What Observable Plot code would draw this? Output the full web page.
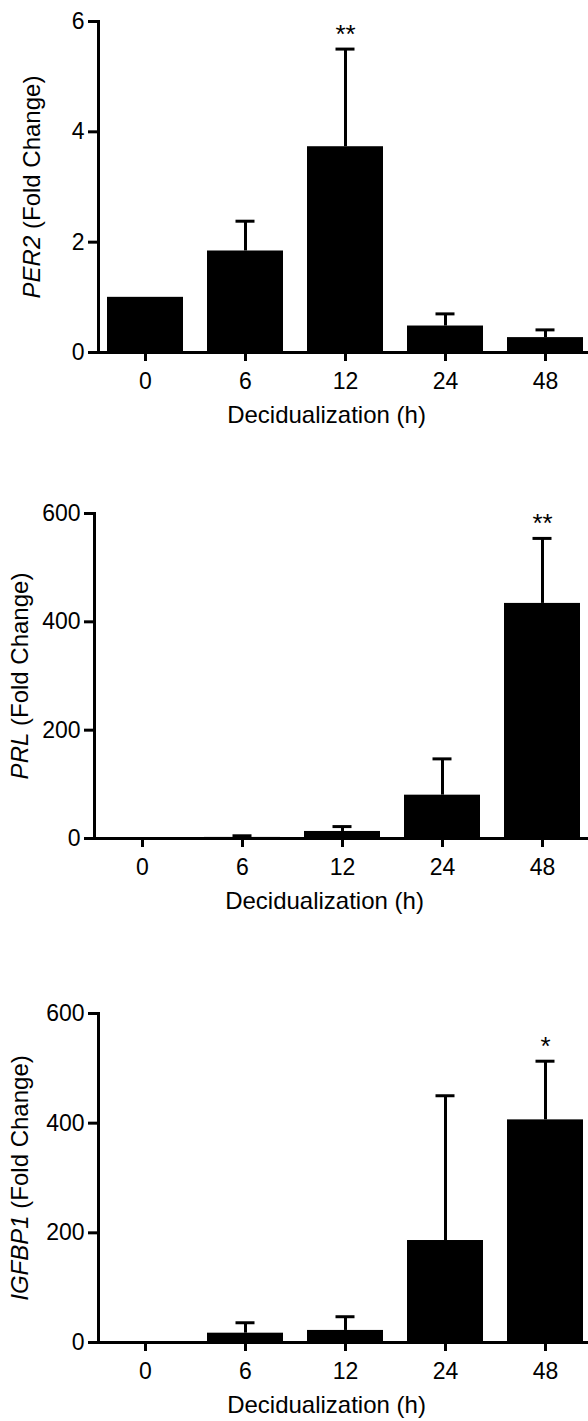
<!DOCTYPE html>
<html><head><meta charset="utf-8">
<script src="https://cdn.jsdelivr.net/npm/d3@7"></script>
<script src="https://cdn.jsdelivr.net/npm/@observablehq/plot@0.6"></script>
<style>
body{margin:0;background:#fff;}
#c svg{display:block;}
</style></head><body><div id="c"></div>
<script>
// Categories
const hours = ["0", "6", "12", "24", "48"];
const xTitle = "Decidualization (h)";

// PER2
const per2Mean  = [1.0, 1.84, 3.73, 0.48, 0.27];
const per2Upper = [1.0, 2.38, 5.50, 0.70, 0.41];
const per2Stars = ["", "", "**", "", ""];
const per2Ticks = [0, 2, 4, 6];

// PRL
const prlMean  = [1, 2, 13, 80, 434];
const prlUpper = [1, 5, 22, 147, 554];
const prlStars = ["", "", "", "", "**"];
const prlTicks = [0, 200, 400, 600];

// IGFBP1
const igfMean  = [1, 17, 22, 186, 406];
const igfUpper = [1, 36, 47, 450, 513];
const igfStars = ["", "", "", "", "*"];
const igfTicks = [0, 200, 400, 600];

const FONT = "'Liberation Sans', Arial, Helvetica, sans-serif";

function panel(gene, means, uppers, stars, ticks, o) {
  const data = hours.map((h, i) => ({h, mean: means[i], upper: uppers[i], star: stars[i]}));
  const errs = data.filter(d => d.upper > d.mean);
  const starred = data.filter(d => d.star);
  const label = gene + " (Fold Change)";
  const chart = Plot.plot({
    width: 588,
    height: o.height,
    marginTop: o.top,
    marginBottom: o.bottom,
    marginLeft: o.left,
    marginRight: 0,
    style: {fontFamily: FONT, fontSize: "23px", color: "#000", background: "#fff", overflow: "visible"},
    x: {domain: hours, range: [o.left + o.shift, o.left + o.shift + 494], paddingInner: 0.24, paddingOuter: 0.09, label: null},
    y: {domain: [0, ticks[ticks.length - 1]], label: null},
    marks: [
      Plot.barY(data, {x: "h", y: "mean", fill: "#000"}),
      Plot.ruleX(errs, {x: "h", y1: "mean", y2: "upper", stroke: "#000", strokeWidth: 3}),
      Plot.tickY(errs, {x: "h", y: "upper", stroke: "#000", strokeWidth: 3, insetLeft: 28.5, insetRight: 28.5}),
      Plot.text(starred, {x: "h", y: "upper", text: "star", fontSize: 26, lineAnchor: "bottom", dy: -6, fill: "#000"}),
      Plot.ruleY([0], {stroke: "#000", strokeWidth: 3}),
      Plot.frame({anchor: "left", stroke: "#000", strokeWidth: 3}),
      Plot.axisY({ticks: ticks, tickSize: 10, tickPadding: 4, strokeWidth: 3, label: null, fontSize: 23, tickFormat: d => String(d)}),
      Plot.axisX({tickSize: 9, tickPadding: 11, strokeWidth: 3, label: null, fontSize: 23}),
      Plot.text([xTitle], {frameAnchor: "bottom", dy: 63, dx: -17, lineAnchor: "middle", fontSize: 24, fill: "#000"}),
      Plot.text([label], {frameAnchor: "left", dx: o.labelX - o.left, rotate: -90, textAnchor: "middle", lineAnchor: "middle", fontSize: 24, fill: "#000"})
    ]
  });
  // Italicize gene symbol in y label
  chart.querySelectorAll("text").forEach(t => {
    if (t.textContent === label) {
      while (t.firstChild) t.removeChild(t.firstChild);
      const ns = "http://www.w3.org/2000/svg";
      const a = document.createElementNS(ns, "tspan");
      a.setAttribute("font-style", "italic");
      a.textContent = gene;
      const b = document.createElementNS(ns, "tspan");
      b.textContent = " (Fold Change)";
      t.appendChild(a); t.appendChild(b);
    }
  });
  return chart;
}

const c = document.getElementById("c");
c.appendChild(panel("PER2", per2Mean, per2Upper, per2Stars, per2Ticks, {height: 480, top: 21, bottom: 128, left: 98, shift: 0, labelX: 32}));
c.appendChild(panel("PRL", prlMean, prlUpper, prlStars, prlTicks, {height: 500, top: 33, bottom: 142, left: 94, shift: 1, labelX: 20}));
c.appendChild(panel("IGFBP1", igfMean, igfUpper, igfStars, igfTicks, {height: 441, top: 33, bottom: 79, left: 98, shift: 0, labelX: 20}));
</script>
</body></html>
